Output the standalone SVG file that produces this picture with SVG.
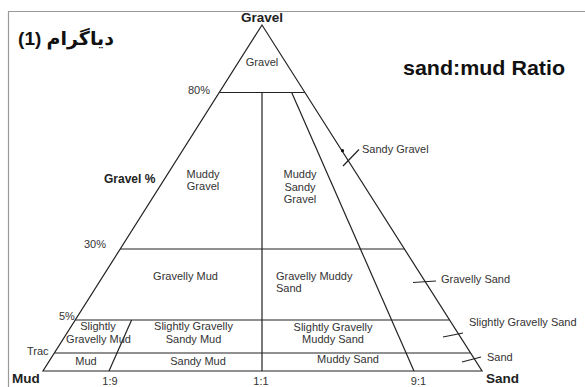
<svg xmlns="http://www.w3.org/2000/svg" width="585" height="387" viewBox="0 0 585 387">
<style>
  .ln { stroke: #222; stroke-width: 1.2; fill: none; }
  .frame { stroke: #9a9a9a; stroke-width: 1.2; fill: none; }
  .lbl { font-family: "Liberation Sans", Arial, sans-serif; font-size: 11px; fill: #333; }
  .mid { text-anchor: middle; }
  .ax { font-family: "Liberation Sans", Arial, sans-serif; font-size: 13.5px; font-weight: bold; fill: #222; }
</style>
<rect width="585" height="387" fill="#fff"/>
<path class="frame" d="M585,11.5 H8.5 V387"/>

<g id="connectors">
  <path class="ln" d="M262,25 L43,371 L482,371 Z"/>
  <line class="ln" x1="219.3" y1="92.5" x2="304.9" y2="92.5"/>
  <line class="ln" x1="120.2" y1="249" x2="404.4" y2="249"/>
  <line class="ln" x1="75.3" y1="320" x2="449.6" y2="320"/>
  <line class="ln" x1="54.4" y1="353" x2="470.6" y2="353"/>
  <line class="ln" x1="262" y1="92.5" x2="262" y2="371"/>
  <line class="ln" x1="291.7" y1="92.5" x2="414" y2="371"/>
  <line class="ln" x1="131.6" y1="320" x2="109" y2="371"/>
  <circle cx="342.5" cy="150.7" r="1.6" fill="#111"/>
  <line class="ln" x1="343" y1="166" x2="359" y2="149.5"/>
  <line class="ln" x1="413" y1="282.5" x2="436" y2="281"/>
  <line class="ln" x1="443" y1="337" x2="463" y2="333"/>
  <line class="ln" x1="462" y1="362" x2="481" y2="357"/>
</g>

<g id="title">
  <text x="66" y="45" direction="rtl" text-anchor="middle" style="font-family:'Liberation Sans','DejaVu Sans',sans-serif;font-size:19px;font-weight:bold;fill:#111">دیاگرام (1)</text>
</g>
<g id="ratio-title">
  <text x="403" y="75" textLength="162" lengthAdjust="spacingAndGlyphs" style="font-family:'Liberation Sans',Arial,sans-serif;font-size:21px;font-weight:bold;fill:#111">sand:mud Ratio</text>
</g>

<g id="axis-labels">
  <text class="ax mid" x="262" y="22">Gravel</text>
  <text class="ax" x="12" y="383">Mud</text>
  <text class="ax" x="486" y="383">Sand</text>
  <text x="104" y="183" style="font-family:'Liberation Sans',Arial,sans-serif;font-size:12px;font-weight:bold;fill:#222">Gravel %</text>
  <text class="lbl" x="188" y="94">80%</text>
  <text class="lbl" x="84" y="248">30%</text>
  <text class="lbl" x="59" y="320">5%</text>
  <text class="lbl" x="27" y="355">Trac</text>
  <text class="lbl mid" x="110" y="385">1:9</text>
  <text class="lbl mid" x="261" y="385">1:1</text>
  <text class="lbl mid" x="418.5" y="385">9:1</text>
</g>

<g id="gravel"><text class="lbl mid" x="262" y="66">Gravel</text></g>
<g id="muddy-gravel"><text class="lbl mid" x="203" y="178">Muddy</text><text class="lbl mid" x="203" y="190">Gravel</text></g>
<g id="muddy-sandy-gravel"><text class="lbl mid" x="300" y="178">Muddy</text><text class="lbl mid" x="300" y="190.5">Sandy</text><text class="lbl mid" x="300" y="203">Gravel</text></g>
<g id="sandy-gravel"><text class="lbl" x="362" y="153">Sandy Gravel</text></g>
<g id="gravelly-mud"><text class="lbl mid" x="185.5" y="279.5">Gravelly Mud</text></g>
<g id="gravelly-muddy-sand"><text class="lbl" x="276" y="279.5">Gravelly Muddy</text><text class="lbl" x="276" y="292">Sand</text></g>
<g id="gravelly-sand"><text class="lbl" x="441" y="283">Gravelly Sand</text></g>
<g id="slightly-gravelly-mud"><text class="lbl mid" x="98" y="330">Slightly</text><text class="lbl mid" x="98.5" y="343">Gravelly Mud</text></g>
<g id="slightly-gravelly-sandy-mud"><text class="lbl mid" x="193.5" y="330">Slightly Gravelly</text><text class="lbl mid" x="193.5" y="343">Sandy Mud</text></g>
<g id="slightly-gravelly-muddy-sand"><text class="lbl mid" x="333" y="330.5">Slightly Gravelly</text><text class="lbl mid" x="333" y="343">Muddy Sand</text></g>
<g id="slightly-gravelly-sand"><text class="lbl" x="469" y="326">Slightly Gravelly Sand</text></g>
<g id="mud"><text class="lbl mid" x="86" y="365">Mud</text></g>
<g id="sandy-mud"><text class="lbl mid" x="198" y="364.5">Sandy Mud</text></g>
<g id="muddy-sand"><text class="lbl mid" x="348" y="363">Muddy Sand</text></g>
<g id="sand"><text class="lbl" x="487" y="361">Sand</text></g>
</svg>
